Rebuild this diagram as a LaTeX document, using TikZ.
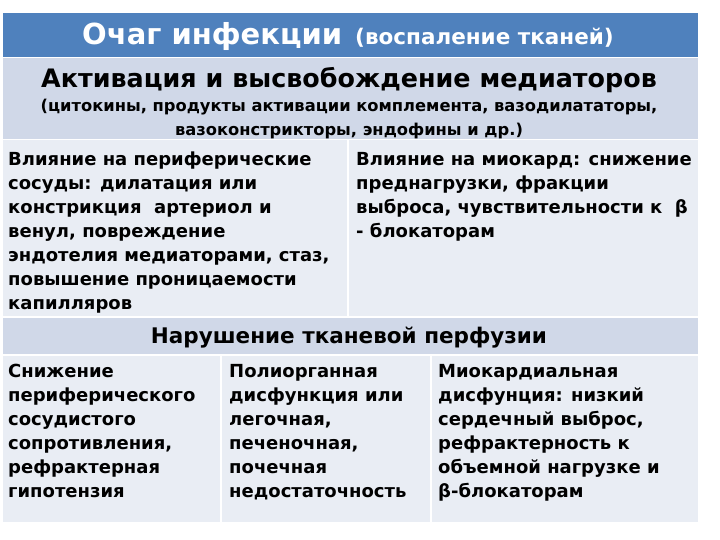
\documentclass[tikz,border=0pt]{standalone}
\usepackage{fontspec}
\setmainfont{DejaVu Sans}
\definecolor{titleblue}{HTML}{4F81BD}
\definecolor{headgray}{HTML}{D0D8E8}
\definecolor{cellgray}{HTML}{E9EDF4}
\begin{document}
\begin{tikzpicture}[x=1pt,y=-1pt,
  cell/.style={draw=white,line width=1.5pt,inner sep=0pt,anchor=north west},
  body/.style={font=\bfseries\fontsize{18}{24}\selectfont,align=left,inner sep=0pt,anchor=base west},
]
\useasboundingbox[fill=white] (0,0) rectangle (720,540);
% cells
\node[cell,fill=titleblue,minimum width=697pt,minimum height=45pt] (r1) at (1,12) {};
\node[cell,fill=headgray,minimum width=697pt,minimum height=82pt] (r2) at (1,57) {};
\node[cell,fill=cellgray,minimum width=346pt,minimum height=177pt] (r3a) at (1,139) {};
\node[cell,fill=cellgray,minimum width=351pt,minimum height=177pt] (r3b) at (347,139) {};
\node[cell,fill=headgray,minimum width=697pt,minimum height=38pt] (r4) at (1,316) {};
\node[cell,fill=cellgray,minimum width=219pt,minimum height=168pt] (r5a) at (1,354) {};
\node[cell,fill=cellgray,minimum width=210pt,minimum height=168pt] (r5b) at (220,354) {};
\node[cell,fill=cellgray,minimum width=268pt,minimum height=168pt] (r5c) at (430,354) {};
% texts
\node[inner sep=0pt,anchor=base west,text=white,font=\bfseries\fontsize{29}{32}\selectfont] (t1) at (82,45) {Очаг инфекции};
\node[inner sep=0pt,anchor=base west,text=white,font=\bfseries\fontsize{21.5}{24}\selectfont] (t2) at (355,45) {(воспаление тканей)};
\node[inner sep=0pt,anchor=base,font=\bfseries\fontsize{25.4}{28}\selectfont] (h2) at (349,88) {Активация и высвобождение медиаторов};
\node[inner sep=0pt,anchor=base,font=\bfseries\fontsize{16.3}{24}\selectfont] (s1) at (349,112) {(цитокины, продукты активации комплемента, вазодилататоры,};
\node[inner sep=0pt,anchor=base,font=\bfseries\fontsize{16.3}{24}\selectfont] (s2) at (349,136) {вазоконстрикторы, эндофины и др.)};
\node[body] (c3a) at (8,309) {Влияние на периферические\\сосуды: дилатация или\\констрикция \ артериол и\\венул, повреждение\\эндотелия медиаторами, стаз,\\повышение проницаемости\\капилляров};
\node[body] (c3b) at (356,237) {Влияние на миокард: снижение\\преднагрузки, фракции\\выброса, чувствительности к \ β\\- блокаторам};
\node[inner sep=0pt,anchor=base,font=\bfseries\fontsize{21.5}{26}\selectfont] (h4) at (349,343) {Нарушение тканевой перфузии};
\node[body] (c5a) at (8,497) {Снижение\\периферического\\сосудистого\\сопротивления,\\рефрактерная\\гипотензия};
\node[body] (c5b) at (229,497) {Полиорганная\\дисфункция или\\легочная,\\печеночная,\\почечная\\недостаточность};
\node[body] (c5c) at (438,497) {Миокардиальная\\дисфунция: низкий\\сердечный выброс,\\рефрактерность к\\объемной нагрузке и\\β-блокаторам};
\end{tikzpicture}
\end{document}
